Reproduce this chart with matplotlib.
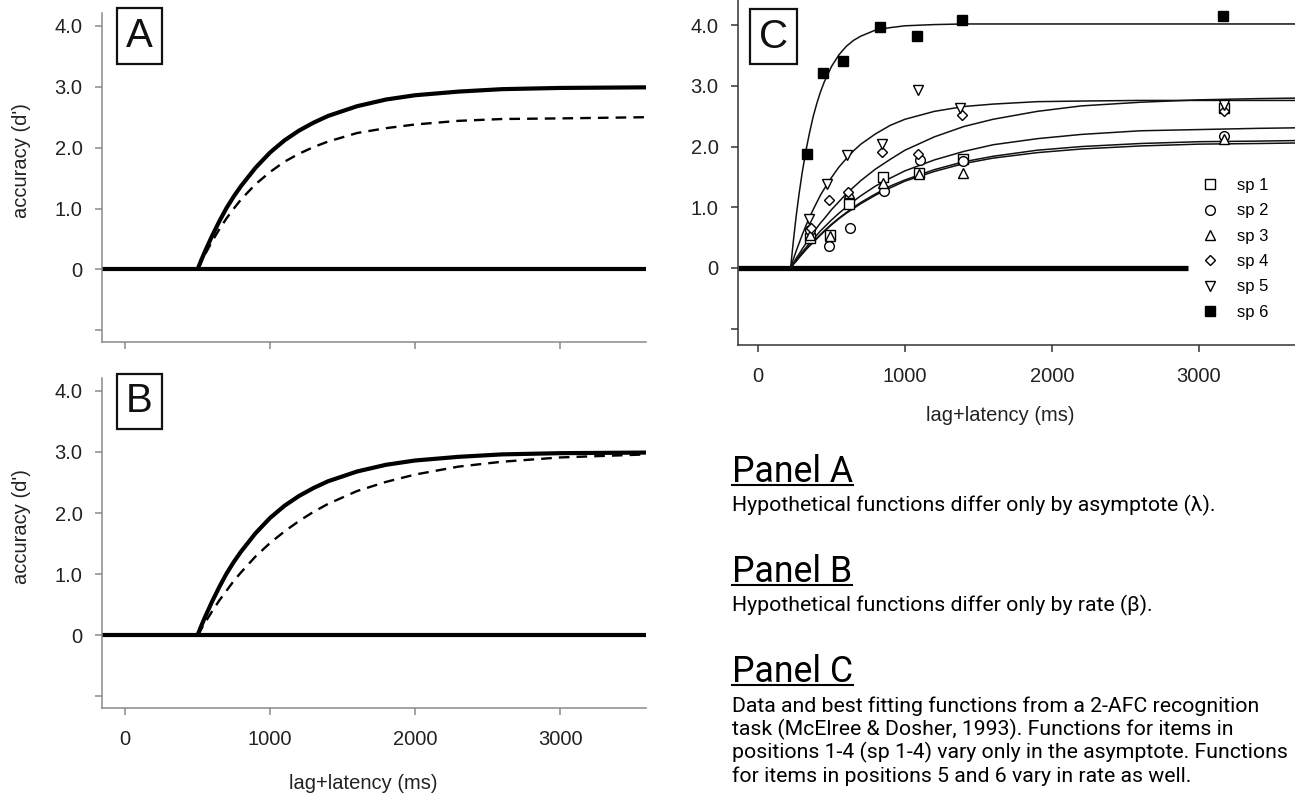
import matplotlib
matplotlib.use("Agg")
import matplotlib.pyplot as plt
from matplotlib.lines import Line2D
from matplotlib.transforms import IdentityTransform

# ---- panels A and B: hypothetical SAT functions ----
ab_t = [500, 525, 550, 600, 650, 700, 750, 800, 900, 1000, 1100, 1200, 1300, 1400,
        1600, 1800, 2000, 2300, 2600, 3000, 3600]
solid_ref = [0, 0.15, 0.29, 0.55, 0.79, 1.01, 1.20, 1.37, 1.67, 1.92, 2.12, 2.28, 2.41,
             2.52, 2.68, 2.79, 2.86, 2.92, 2.96, 2.98, 2.99]
dashed_a = [0, 0.12, 0.24, 0.46, 0.66, 0.84, 1.00, 1.15, 1.40, 1.60, 1.77, 1.90, 2.01,
            2.10, 2.24, 2.32, 2.38, 2.44, 2.47, 2.48, 2.50]
dashed_b = [0, 0.10, 0.20, 0.39, 0.57, 0.73, 0.89, 1.03, 1.29, 1.51, 1.70, 1.87, 2.02,
            2.15, 2.36, 2.51, 2.63, 2.76, 2.84, 2.91, 2.96]

# ---- panel C: fitted functions (McElree & Dosher, 1993) ----
c_t = [222, 240, 260, 280, 300, 325, 350, 375, 400, 425, 450, 500, 550, 600, 650, 700,
       800, 900, 1000, 1200, 1400, 1600, 1900, 2200, 2600, 3000, 3400, 3700]
fit_sp6 = [0, 0.43, 0.86, 1.23, 1.56, 1.92, 2.22, 2.49, 2.71, 2.90, 3.06, 3.32, 3.51, 3.65,
           3.75, 3.82, 3.92, 3.96, 3.99, 4.01, 4.02, 4.02, 4.02, 4.02, 4.02, 4.02, 4.02, 4.02]
fit_sp5 = [0, 0.14, 0.28, 0.41, 0.54, 0.69, 0.83, 0.96, 1.08, 1.20, 1.30, 1.49, 1.66, 1.80,
           1.93, 2.04, 2.21, 2.35, 2.45, 2.58, 2.66, 2.70, 2.74, 2.75, 2.76, 2.76, 2.76, 2.76]
fit_sp4 = [0, 0.07, 0.16, 0.23, 0.31, 0.40, 0.49, 0.58, 0.66, 0.74, 0.81, 0.96, 1.09, 1.22,
           1.33, 1.44, 1.63, 1.79, 1.94, 2.16, 2.33, 2.45, 2.58, 2.67, 2.73, 2.77, 2.79, 2.80]
fit_sp2 = [0, 0.06, 0.13, 0.19, 0.26, 0.33, 0.41, 0.48, 0.54, 0.61, 0.67, 0.79, 0.90, 1.00,
           1.10, 1.19, 1.35, 1.48, 1.60, 1.78, 1.92, 2.03, 2.13, 2.20, 2.26, 2.28, 2.30, 2.31]
fit_sp1 = [0, 0.06, 0.11, 0.17, 0.23, 0.30, 0.36, 0.42, 0.48, 0.54, 0.60, 0.71, 0.81, 0.90,
           0.98, 1.06, 1.20, 1.32, 1.43, 1.59, 1.72, 1.81, 1.90, 1.96, 2.01, 2.04, 2.05, 2.06]
fit_sp3 = [0, 0.06, 0.12, 0.18, 0.23, 0.30, 0.37, 0.43, 0.49, 0.55, 0.61, 0.72, 0.82, 0.91,
           1.00, 1.08, 1.22, 1.35, 1.45, 1.62, 1.75, 1.84, 1.94, 2.00, 2.05, 2.08, 2.09, 2.10]
c_floor = [-136, 2925]

# observed d' per serial position
lag_sp1 = [352, 490, 618, 852, 1098, 1392, 3170]
dp_sp1 = [0.50, 0.55, 1.06, 1.50, 1.57, 1.80, 2.63]
lag_sp2 = [357, 486, 624, 855, 1103, 1392, 3172]
dp_sp2 = [0.62, 0.36, 0.66, 1.26, 1.78, 1.77, 2.18]
lag_sp3 = [355, 490, 618, 850, 1098, 1395, 3172]
dp_sp3 = [0.55, 0.52, 1.24, 1.40, 1.54, 1.56, 2.12]
lag_sp4 = [360, 481, 614, 844, 1091, 1388, 3170]
dp_sp4 = [0.66, 1.12, 1.25, 1.91, 1.88, 2.52, 2.58]
lag_sp5 = [349, 467, 603, 841, 1088, 1376, 3168]
dp_sp5 = [0.80, 1.38, 1.86, 2.05, 2.93, 2.64, 2.68]
lag_sp6 = [330, 440, 580, 830, 1080, 1385, 3160]
dp_sp6 = [1.88, 3.22, 3.41, 3.97, 3.82, 4.08, 4.15]

legend_labels = ["sp 1", "sp 2", "sp 3", "sp 4", "sp 5", "sp 6"]
yticks = [-1, 0, 1, 2, 3, 4]
ytick_labels = ["", "0", "1.0", "2.0", "3.0", "4.0"]
xticks = [0, 1000, 2000, 3000]
xtick_labels = ["0", "1000", "2000", "3000"]

notes = [
    ("Panel A", ["Hypothetical functions differ only by asymptote (\u03bb)."]),
    ("Panel B", ["Hypothetical functions differ only by rate (\u03b2)."]),
    ("Panel C", ["Data and best fitting functions from a 2-AFC recognition",
                 "task (McElree & Dosher, 1993). Functions for items in",
                 "positions 1-4 (sp 1-4) vary only in the asymptote. Functions",
                 "for items in positions 5 and 6 vary in rate as well."]),
]

W, H = 1295, 797
plt.rcParams['font.family'] = ['Liberation Sans', 'DejaVu Sans']
fig = plt.figure(figsize=(W / 100, H / 100), dpi=100)
fig.patch.set_facecolor('white')

TICK_COL = '#222222'


def px_axes(left, top, right, bottom):
    return fig.add_axes([left / W, 1 - bottom / H, (right - left) / W, (bottom - top) / H])


def style_axes(ax, spine_col, show_xlabels):
    for s in ['top', 'right']:
        ax.spines[s].set_visible(False)
    for s in ['left', 'bottom']:
        ax.spines[s].set_color(spine_col)
        ax.spines[s].set_linewidth(1.1)
    ax.set_yticks(yticks)
    ax.set_yticklabels(ytick_labels)
    ax.set_xticks(xticks)
    if show_xlabels:
        ax.set_xticklabels(xtick_labels)
    else:
        ax.set_xticklabels([])
    ax.tick_params(axis='both', direction='out', length=5, width=1.1, color=spine_col,
                   labelsize=14.5, labelcolor=TICK_COL)
    ax.tick_params(axis='y', pad=9)
    ax.tick_params(axis='x', pad=11)


def box_letter(ax, letter, x, y):
    ax.text(x, y, letter, transform=ax.transAxes, ha='center', va='center',
            fontsize=29, color='#111111',
            bbox=dict(boxstyle='square,pad=0.22', facecolor='white',
                      edgecolor='#111111', linewidth=1.6))


# ---- panels A and B ----
axA = px_axes(102, 13, 646, 342)
axB = px_axes(102, 378, 646, 708)
for ax, dash, letter in [(axA, dashed_a, 'A'), (axB, dashed_b, 'B')]:
    ax.set_xlim(-159, 3593)
    ax.set_ylim(-1.19, 4.21)
    ax.axhline(0, color='black', lw=3, solid_capstyle='butt')
    ax.plot(ab_t, dash, color='black', lw=1.7, dashes=(4.5, 3))
    ax.plot(ab_t, solid_ref, color='black', lw=3, solid_capstyle='butt',
            solid_joinstyle='round')
    style_axes(ax, '#8a8a8a', ax is axB)
    ax.set_ylabel("accuracy (d')", fontsize=14.5, color=TICK_COL)
    ax.yaxis.set_label_coords(-0.13, 0.55)
    box_letter(ax, letter, 0.069, 0.929)

axB.set_xlabel("lag+latency (ms)", fontsize=14.5, color=TICK_COL)
axB.xaxis.label.set_va('center')
axB.xaxis.set_label_coords(0.48, -0.228)

# ---- panel C ----
axC = px_axes(738, 0, 1295, 345)
axC.set_xlim(-136, 3653)
axC.set_ylim(-1.27, 4.415)
axC.plot(c_floor, [0, 0], color='black', lw=3.8, solid_capstyle='butt')
for fit in [fit_sp1, fit_sp3, fit_sp2, fit_sp4, fit_sp5, fit_sp6]:
    axC.plot(c_t, fit, color='#111111', lw=1.1)

series = [
    (lag_sp1, dp_sp1, 's', 'white', 7),
    (lag_sp2, dp_sp2, 'o', 'white', 7),
    (lag_sp3, dp_sp3, '^', 'white', 7),
    (lag_sp4, dp_sp4, 'D', 'white', 5.5),
    (lag_sp5, dp_sp5, 'v', 'white', 7),
    (lag_sp6, dp_sp6, 's', 'black', 7),
]
handles = []
for (lx, dy, mk, fc, ms), lab in zip(series, legend_labels):
    h, = axC.plot(lx, dy, linestyle='none', marker=mk, ms=ms, mfc=fc,
                  mec='black', mew=1.0, label=lab, zorder=4)
    handles.append(h)

style_axes(axC, '#333333', True)
axC.set_xlabel("lag+latency (ms)", fontsize=14.5, color=TICK_COL)
axC.xaxis.label.set_va('center')
axC.xaxis.set_label_coords(0.47, -0.203)
box_letter(axC, 'C', 0.0637, 0.894)

axC.legend(handles=handles, loc='upper left', frameon=False,
           bbox_to_anchor=(1202 / W, 1 - 178 / H), bbox_transform=fig.transFigure,
           borderpad=0, handlelength=1.0, handletextpad=1.1, labelspacing=0.62,
           prop={'size': 12}, borderaxespad=0)

# ---- notes on the lower right ----
body_family = ['Roboto', 'DejaVu Sans']
head_family = ['Roboto', 'DejaVu Sans']
fig.canvas.draw()
rend = fig.canvas.get_renderer()


def text_width(text, family):
    probe = fig.text(0, 0, text, fontsize=10, family=family)
    w = probe.get_window_extent(rend).width
    probe.remove()
    return w


x0 = 732
# body size: widest note line has to stay inside the figure
widest = max(text_width(line, body_family) for _, lines in notes for line in lines)
body_size = 10 * (W - x0 - 4) / widest
head_size = 10 * 121 / text_width("Panel A", head_family)

head_base = [482, 582, 682]
line_step = 23.4
for (head, lines), hb in zip(notes, head_base):
    t = fig.text(x0 / W, 1 - hb / H, head, fontsize=head_size, family=head_family,
                 va='baseline', ha='left', color='black')
    bb = t.get_window_extent(rend)
    uy = H - (hb + 2.5)
    fig.add_artist(Line2D([bb.x0, bb.x1], [uy, uy], transform=IdentityTransform(),
                          color='black', lw=1.5))
    for i, line in enumerate(lines):
        fig.text(x0 / W, 1 - (hb + 29.5 + i * line_step) / H, line, fontsize=body_size,
                 family=body_family, va='baseline', ha='left', color='black')

fig.savefig('out.png', dpi=100, facecolor='white')
